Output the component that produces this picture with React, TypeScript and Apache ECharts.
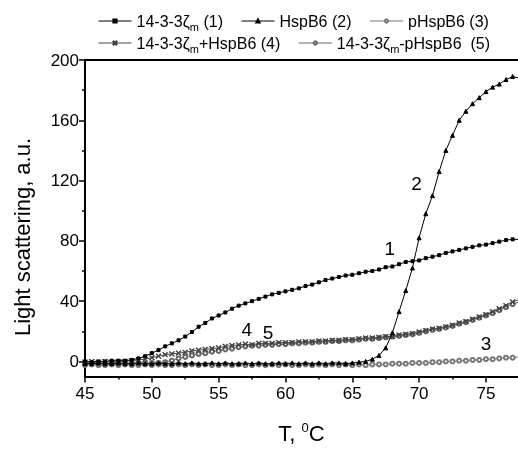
import React, { useEffect, useRef } from 'react';
import * as echarts from 'echarts';

// Temperature grid of the readings (°C)
const T_START = 45;
const T_STEP = 0.5;

// 14-3-3ζm (1)
const S1 = [0, -0.5, 0, 0, 0.5, 0.5, 0.5, 1, 2, 3.5, 5.5, 7.5, 10, 12, 14, 16.5, 19.5, 23, 25.5, 28.5, 30.5, 32.5, 35, 37, 38.5, 40, 41.5, 43, 44.5, 45.5, 46.5, 47.5, 48.5, 50, 51, 52.5, 54, 55, 56, 57, 57.5, 58.5, 59.5, 60, 61, 62.5, 63, 64.5, 66, 66.5, 67, 68.5, 69.5, 70.5, 72, 73, 74, 75, 76, 77, 77.5, 78.5, 79.5, 80.5, 81, 81];
// HspB6 (2)
const S2 = [-1.5, -1.5, -1, -1.5, -1.5, -1, -1.5, -1.5, -1, -1.5, -1.5, -1, -1.5, -1.5, -1, -1.5, -1, -1.5, -1.5, -1, -1.5, -1, -1.5, -1.5, -1, -1.5, -1, -1.5, -1.5, -1, -1.5, -1, -1.5, -1, -1.5, -1, -1.5, -1, -1, -1.5, -1, -0.5, 0, 1.5, 4, 9, 19, 33, 47, 62, 82, 98, 110, 126, 140, 150, 160, 166, 171, 175, 179, 182, 184, 187, 189, 188];
// pHspB6 (3)
const S3 = [-2.5, -2, -2.5, -2.5, -2, -2.5, -2, -2.5, -2.5, -2, -2.5, -2, -2.5, -2.5, -2, -2.5, -2, -2.5, -2, -2.5, -2.5, -2, -2.5, -2, -2.5, -2.5, -2, -2.5, -2, -2.5, -2, -2.5, -2.5, -2, -2.5, -2, -2.5, -2, -2.5, -2, -2.5, -2, -2.5, -2, -2, -2, -1.5, -1.5, -1.5, -1, -1, -1, -0.5, -0.5, 0, 0, 0.5, 0.5, 1, 1, 1.5, 1.5, 2, 2.5, 2.5, 3];
// 14-3-3ζm+HspB6 (4)
const S4 = [-0.5, 0, -0.5, 0, -0.5, 0, 0, 0.5, 1, 1.5, 2.5, 3.5, 4.5, 5, 5.5, 6, 7, 7.5, 8, 8.5, 9, 10, 10.5, 11, 11.5, 11, 12, 12, 12, 12.5, 12.5, 12.5, 13, 13, 13, 13.5, 13.5, 14, 14, 14.5, 14.5, 15, 15.5, 15.5, 16, 16.5, 16.5, 17.5, 18, 18.5, 19.5, 20.5, 21.5, 22, 23, 24, 25.5, 26.5, 28, 29.5, 31, 33, 35, 37, 39.5, 41];
// 14-3-3ζm-pHspB6 (5)
const S5 = [-1.5, -1, -1.5, -1.5, -1, -1.5, -1, -1.5, -1, -1.5, -1, -1, -0.5, 0.5, 2, 3, 4, 5, 5.5, 6.5, 7, 8, 8.5, 9.5, 10, 10.5, 10.5, 11, 11, 11.5, 11.5, 12, 12, 12.5, 12.5, 13, 13, 13.5, 13.5, 14, 14, 14.5, 15, 15, 15.5, 16, 16.5, 17, 17.5, 18, 19, 20, 21, 21.5, 22.5, 23.5, 25, 26, 27.5, 29, 30.5, 32, 34, 36, 38, 39.5];

const NAMES = ['14-3-3ζm (1)', 'HspB6 (2)', 'pHspB6 (3)', '14-3-3ζm+HspB6 (4)', '14-3-3ζm-pHspB6  (5)'];

const X_MIN = 45;
const X_MAX = 77.4;
const Y_MIN = -10;
const Y_MAX = 200;
const X_MAJOR = [45, 50, 55, 60, 65, 70, 75];
const X_MINOR = [47.5, 52.5, 57.5, 62.5, 67.5, 72.5];
const Y_MAJOR = [0, 40, 80, 120, 160, 200];
const Y_MINOR = [20, 60, 100, 140, 180];

// curve number annotations (data space)
const NOTE_TEXT = ['1', '2', '3', '4', '5'];
const NOTE_T = [67.8, 69.8, 75.0, 57.1, 58.7];
const NOTE_V = [75, 118, 11.6, 21, 19];

const FONT = '"Liberation Sans", Arial, Helvetica, sans-serif';
const CROSS = 'path://M0 1L1 0L5 4L9 0L10 1L6 5L10 9L9 10L5 6L1 10L0 9L4 5Z';

const toPts = (arr: number[]) => arr.map((v, i) => [T_START + i * T_STEP, v]);

export default function App() {
  const ref = useRef<HTMLDivElement>(null);
  useEffect(() => {
    if (!ref.current) return;
    const chart = echarts.init(ref.current, null, { renderer: 'svg' });
    const legendText = {
      fontSize: 16,
      fontFamily: FONT,
      color: '#000',
      rich: {
        sub: { fontSize: 11, fontFamily: FONT, color: '#000', padding: [12, 0, 0, 0] },
      },
    };
    const fmt = (name: string) => name.replace('ζm', 'ζ{sub|m}');
    const lineSeries = (i: number, data: number[], color: string, symbol: string, size: number, z: number) => ({
      type: 'line',
      name: NAMES[i],
      data: toPts(data),
      symbol,
      symbolSize: size,
      showSymbol: true,
      color,
      itemStyle: { color, borderColor: color, borderWidth: 1 },
      lineStyle: { color, width: 1 },
      z,
      silent: true,
    });
    const legendBase = {
      left: 98,
      padding: 0,
      itemWidth: 33,
      itemHeight: 4,
      itemGap: 18,
      formatter: fmt,
      textStyle: legendText,
      selectedMode: false,
      lineStyle: { width: 1 },
    };
    chart.setOption({
      animation: false,
      grid: { left: 85, right: 0, top: 60, bottom: 69, containLabel: false },
      legend: [
        { ...legendBase, data: NAMES.slice(0, 3), top: 13 },
        { ...legendBase, data: NAMES.slice(3), top: 35 },
      ],
      xAxis: [
        {
          type: 'value',
          min: X_MIN,
          max: X_MAX,
          position: 'bottom',
          axisLine: { show: true, onZero: false, lineStyle: { color: '#000', width: 2 } },
          axisTick: { show: true, customValues: X_MAJOR, length: 6, lineStyle: { color: '#000', width: 1.5 } },
          axisLabel: { customValues: X_MAJOR, fontSize: 17, fontFamily: FONT, color: '#000', margin: 8 },
          splitLine: { show: false },
          name: 'T, {sup|0}C',
          nameLocation: 'middle',
          nameGap: 44,
          nameTextStyle: {
            fontSize: 22,
            fontFamily: FONT,
            color: '#000',
            rich: { sup: { fontSize: 13, fontFamily: FONT, color: '#000', padding: [0, 0, 12, 0] } },
          },
        },
        {
          type: 'value',
          min: X_MIN,
          max: X_MAX,
          position: 'bottom',
          axisLine: { show: false, onZero: false },
          axisTick: { show: true, customValues: X_MINOR, length: 3, lineStyle: { color: '#000', width: 1.5 } },
          axisLabel: { show: false },
          splitLine: { show: false },
        },
        {
          type: 'value',
          min: X_MIN,
          max: X_MAX,
          position: 'top',
          axisLine: { show: true, onZero: false, lineStyle: { color: '#000', width: 2 } },
          axisTick: { show: false },
          axisLabel: { show: false },
          splitLine: { show: false },
        },
      ],
      yAxis: [
        {
          type: 'value',
          min: Y_MIN,
          max: Y_MAX,
          position: 'left',
          axisLine: { show: true, onZero: false, lineStyle: { color: '#000', width: 2 } },
          axisTick: { show: true, customValues: Y_MAJOR, length: 6, lineStyle: { color: '#000', width: 1.5 } },
          axisLabel: { customValues: Y_MAJOR, fontSize: 17, fontFamily: FONT, color: '#000', margin: 6 },
          splitLine: { show: false },
        },
        {
          type: 'value',
          min: Y_MIN,
          max: Y_MAX,
          position: 'left',
          axisLine: { show: false, onZero: false },
          axisTick: { show: true, customValues: Y_MINOR, length: 3, lineStyle: { color: '#000', width: 1.5 } },
          axisLabel: { show: false },
          splitLine: { show: false },
        },
      ],
      graphic: [
        {
          type: 'text',
          x: 22,
          y: 237,
          rotation: Math.PI / 2,
          style: {
            text: 'Light scattering, a.u.',
            fontSize: 22,
            fontFamily: FONT,
            fill: '#000',
            align: 'center',
            verticalAlign: 'middle',
          },
        },
      ],
      series: [
        lineSeries(2, S3, '#777', 'emptyCircle', 4, 2),
        lineSeries(4, S5, '#666', 'emptyCircle', 4, 3),
        lineSeries(3, S4, '#444', CROSS, 5, 4),
        lineSeries(0, S1, '#000', 'rect', 3, 5),
        lineSeries(1, S2, '#000', 'triangle', 4, 6),
        {
          type: 'scatter',
          name: 'notes',
          data: NOTE_TEXT.map((t, i) => ({ name: t, value: [NOTE_T[i], NOTE_V[i]] })),
          symbolSize: 0.1,
          itemStyle: { color: 'transparent' },
          label: {
            show: true,
            position: 'inside',
            formatter: (p: any) => p.name,
            fontSize: 19,
            fontFamily: FONT,
            color: '#000',
            opacity: 1,
          },
          z: 10,
          silent: true,
        },
      ],
    });
    return () => chart.dispose();
  }, []);
  return <div ref={ref} style={{ position: 'fixed', left: 0, top: 0, width: 518, height: 449 }} />;
}
